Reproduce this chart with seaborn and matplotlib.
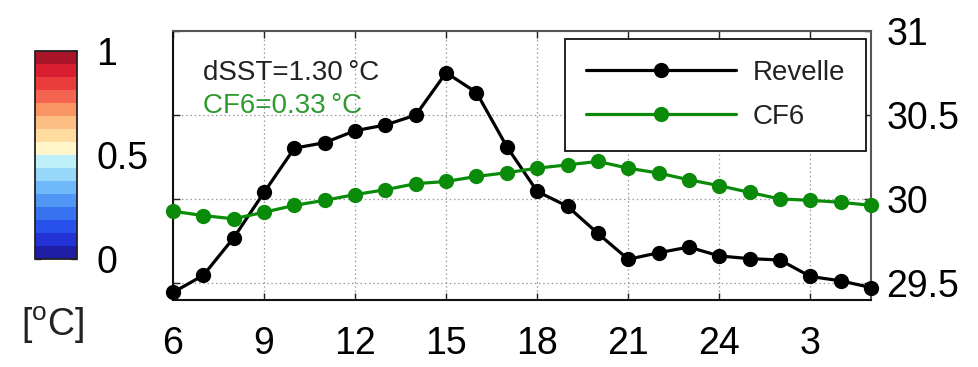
import numpy as np
import pandas as pd
import matplotlib
matplotlib.use("Agg")
import matplotlib.pyplot as plt
import matplotlib.colors as mcolors
import matplotlib.cm as cm
import matplotlib.ticker as mticker
from matplotlib.lines import Line2D
import seaborn as sns

# ---------------- data ----------------
hours = list(range(6, 30))  # local hour, 24..29 shown as 0..5 next day
revelle = [29.445, 29.547, 29.770, 30.040, 30.303, 30.336, 30.407, 30.441,
           30.500, 30.752, 30.634, 30.312, 30.046, 29.957, 29.796, 29.642,
           29.681, 29.715, 29.662, 29.646, 29.638, 29.540, 29.514, 29.474]
cf6 = [29.928, 29.902, 29.883, 29.922, 29.963, 29.993, 30.027, 30.056,
       30.092, 30.105, 30.135, 30.157, 30.184, 30.204, 30.224, 30.184,
       30.155, 30.115, 30.080, 30.040, 30.001, 29.993, 29.981, 29.963]
series_names = ["Revelle", "CF6"]
xticks = [6, 9, 12, 15, 18, 21, 24, 27]
xticklabels = ["6", "9", "12", "15", "18", "21", "24", "3"]
yticks = [29.5, 30.0, 30.5, 31.0]
yticklabels = ["29.5", "30", "30.5", "31"]
annot_texts = ["dSST=1.30\u2009\u00b0C", "CF6=0.33\u2009\u00b0C"]
cbar_ticks = [0, 0.5, 1]
cbar_ticklabels = ["0", "0.5", "1"]
cbar_colors = [
    (30, 30, 165), (35, 50, 215), (40, 80, 235), (55, 115, 240),
    (80, 150, 245), (110, 185, 250), (150, 215, 250), (190, 240, 250),
    (255, 245, 200), (255, 220, 160), (252, 190, 130), (250, 150, 100),
    (245, 100, 80), (235, 60, 60), (218, 30, 50), (170, 20, 40)]

df = pd.DataFrame({
    "hour": hours * 2,
    "sst": revelle + cf6,
    "src": [series_names[0]] * len(hours) + [series_names[1]] * len(hours),
})

# ---------------- style ----------------
sns.set_theme(style="white")
plt.rcParams["font.family"] = ["Liberation Sans", "DejaVu Sans"]
plt.rcParams["mathtext.fontset"] = "custom"
plt.rcParams["mathtext.rm"] = "Liberation Sans"

black = "#000000"
green = "#0a8c0a"
palette = {series_names[0]: black, series_names[1]: green}

fig = plt.figure(figsize=(9.79, 3.67), dpi=100)
W, H = 979, 367
ax = fig.add_axes([173 / W, 1 - 300 / H, 698 / W, 269 / H])

sns.lineplot(data=df, x="hour", y="sst", hue="src", palette=palette,
             marker="o", markersize=11, linewidth=2.3, markeredgewidth=0,
             ax=ax, legend=False, clip_on=False, zorder=3)

ax.set_xlim(6, 29)
ax.set_ylim(29.4, 31.0)
ax.set_xticks(xticks)
ax.set_xticklabels(xticklabels)
ax.set_yticks(yticks)
ax.set_yticklabels(yticklabels)
ax.yaxis.tick_right()
ax.tick_params(axis="both", which="both", direction="in", length=5, width=1,
               labelsize=27, colors="#222222", top=True, bottom=True,
               left=True, right=True)
ax.tick_params(axis="x", pad=19)
ax.tick_params(axis="y", pad=11)
for lab in ax.get_xticklabels() + ax.get_yticklabels():
    lab.set_color("black")
ax.set_xlabel("")
ax.set_ylabel("")
ax.grid(True, linestyle=(0, (1.2, 2.2)), color="#9a9a9a", linewidth=0.9)
for side, sp in ax.spines.items():
    sp.set_visible(True)
    sp.set_color("#111111" if side in ("left", "bottom") else "#555555")
    sp.set_linewidth(1.5)

# annotations
ax.text(203 / W, 1 - 73 / H, annot_texts[0], transform=fig.transFigure,
        fontsize=20, color="#222222", va="center", ha="left")
ax.text(203 / W, 1 - 106 / H, annot_texts[1], transform=fig.transFigure,
        fontsize=20, color="#2f9a2f", va="center", ha="left")

# legend
handles = [Line2D([0], [0], color=palette[n], marker="o", markersize=11,
                  markeredgewidth=0, linewidth=2.3) for n in series_names]
leg = ax.legend(handles, series_names, loc="upper right",
                bbox_to_anchor=(866 / W, 1 - 39 / H),
                bbox_transform=fig.transFigure, borderaxespad=0,
                fontsize=20, frameon=True, fancybox=False,
                handlelength=5.4, handletextpad=0.6, labelspacing=0.65,
                borderpad=0.75)
leg.get_frame().set_edgecolor("#111111")
leg.get_frame().set_linewidth(1.3)
leg.get_frame().set_facecolor("white")
leg.get_frame().set_alpha(1)
for t in leg.get_texts():
    t.set_color("#222222")

# colorbar
cax = fig.add_axes([35 / W, 1 - 259 / H, 42 / W, 208 / H])
cmap = mcolors.ListedColormap([tuple(c / 255 for c in col) for col in cbar_colors])
norm = mcolors.BoundaryNorm(np.linspace(0, 1, len(cbar_colors) + 1), cmap.N)
sm = cm.ScalarMappable(norm=norm, cmap=cmap)
cb = fig.colorbar(sm, cax=cax, ticks=cbar_ticks)
cb.minorticks_off()
cb.set_ticks(cbar_ticks)
cb.set_ticklabels(cbar_ticklabels)
cb.ax.yaxis.set_minor_locator(mticker.NullLocator())
cb.ax.tick_params(which="major", direction="in", length=4, width=1,
                  labelsize=27, pad=14, colors="#222222", left=True, right=True)
cb.ax.tick_params(which="minor", length=0, width=0)
for lab in cb.ax.get_yticklabels():
    lab.set_color("black")
cb.outline.set_edgecolor("#222222")
cb.outline.set_linewidth(1.3)
fig.text(53 / W, 1 - 325 / H, r"[$^{\rm o}$C]", fontsize=27, ha="center",
         va="center", color="#222222")

fig.savefig("out.png", dpi=100)
